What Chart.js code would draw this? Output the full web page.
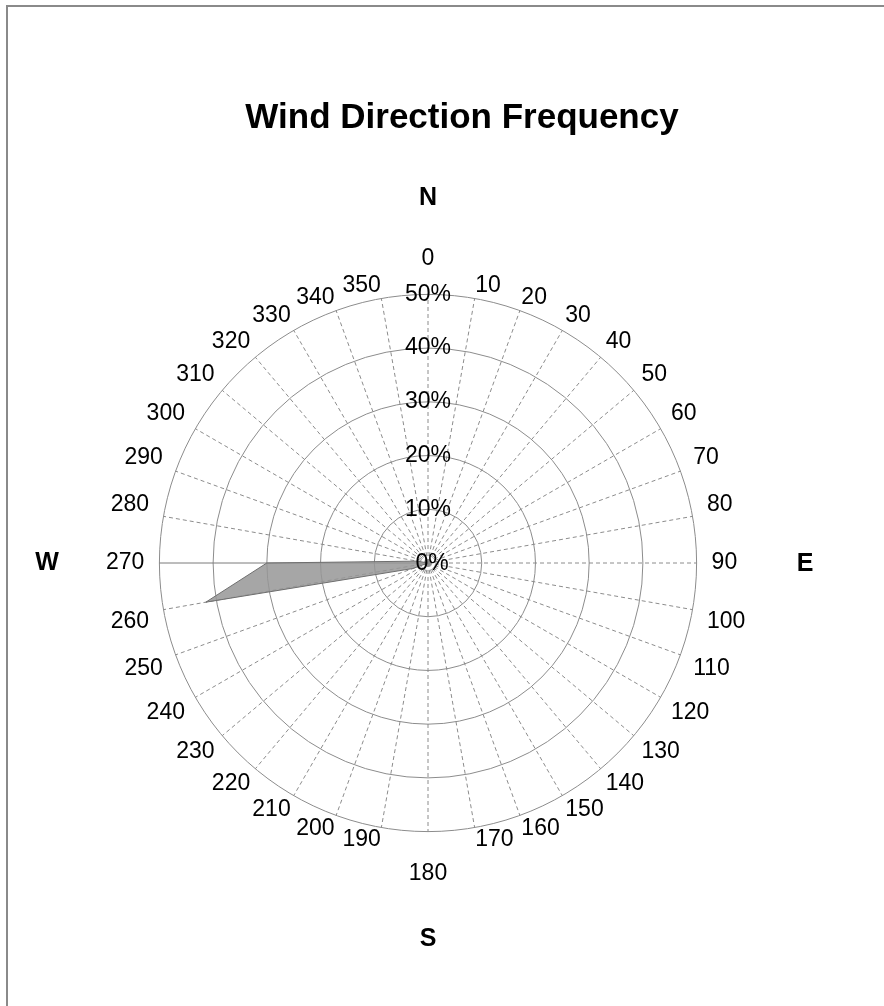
<!DOCTYPE html>
<html>
<head>
<meta charset="utf-8">
<script src="https://cdn.jsdelivr.net/npm/chart.js@4"></script>
<style>
  html, body { margin: 0; padding: 0; background: #fff; }
  #frame {
    position: absolute; left: 6px; top: 5px; width: 900px; height: 1020px;
    border-left: 2px solid #8a8a8a; border-top: 2px solid #8a8a8a;
  }
  #wrap { position: absolute; left: 0; top: 0; width: 884px; height: 1006px; }
</style>
</head>
<body>
<div id="frame"></div>
<div id="wrap"><canvas id="rose"></canvas></div>
<script>
// wind directions in degrees (category labels)
const directions = ['0', '10', '20', '30', '40', '50', '60', '70', '80', '90',
  '100', '110', '120', '130', '140', '150', '160', '170', '180',
  '190', '200', '210', '220', '230', '240', '250', '260', '270',
  '280', '290', '300', '310', '320', '330', '340', '350'];

// frequency (%) for each direction
const frequency = [0, 0, 0, 0, 0, 0, 0, 0, 0, 0,
  0, 0, 0, 0, 0, 0, 0, 0, 0,
  0, 0, 0, 0, 0, 0, 3, 42, 30,
  2, 0, 0, 0, 0, 0, 0, 0];

const compass = ['N', 'E', 'S', 'W'];
const chartTitle = 'Wind Direction Frequency';
const labelFont = 'Arial, "Liberation Sans", sans-serif';

// title, compass letters and the centre "0%" label
const decorPlugin = {
  id: 'decor',
  afterDraw(chart) {
    const r = chart.scales.r;
    const ctx = chart.ctx;
    ctx.save();
    ctx.fillStyle = '#000';
    ctx.textAlign = 'center';
    ctx.textBaseline = 'middle';
    ctx.font = 'bold 35px ' + labelFont;
    ctx.fillText(chartTitle, 462, 118);
    ctx.font = '23px ' + labelFont;
    ctx.fillText('0%', r.xCenter + 4, r.yCenter + 1);
    ctx.font = 'bold 25px ' + labelFont;
    ctx.fillText(compass[0], r.xCenter, r.yCenter - 365);
    ctx.fillText(compass[1], r.xCenter + 377, r.yCenter + 1);
    ctx.fillText(compass[2], r.xCenter, r.yCenter + 376);
    ctx.fillText(compass[3], r.xCenter - 381, r.yCenter);
    ctx.restore();
  }
};

// gap between circle and label: tight near the top, wider at the sides,
// 0 and 180 pushed clear of the axis. Chart.js adds 11.5px of its own.
const labelPadding = (c) => {
  if (c.index === 0) return 27 - 11.5;
  if (c.index === 18) return 33 - 11.5;
  const s = Math.sin(c.index * 10 * Math.PI / 180);
  return 3 + 12 * s * s - 11.5;
};

new Chart(document.getElementById('rose'), {
  type: 'radar',
  data: {
    labels: directions,
    datasets: [{
      label: 'Frequency',
      data: frequency,
      backgroundColor: 'rgba(150, 150, 150, 0.85)',
      borderColor: '#6e6e6e',
      borderWidth: 1,
      pointRadius: 0,
      fill: true
    }]
  },
  options: {
    responsive: true,
    maintainAspectRatio: false,
    animation: false,
    layout: { padding: { left: 61, right: 88, top: 247, bottom: 120 } },
    plugins: {
      legend: { display: false },
      tooltip: { enabled: false },
      title: { display: false }
    },
    scales: {
      r: {
        min: 0,
        max: 50,
        startAngle: 0,
        grid: {
          circular: true,
          color: '#8c8c8c',
          lineWidth: 1,
          borderDash: [4, 3]
        },
        angleLines: {
          color: (c) => c.index === 27 ? '#7a7a7a' : '#8c8c8c',
          lineWidth: 1,
          borderDash: (c) => c.index === 27 ? [] : [4, 3]
        },
        pointLabels: {
          color: '#000',
          padding: labelPadding,
          font: { family: labelFont, size: 23, lineHeight: 0.8 }
        },
        ticks: {
          stepSize: 10,
          color: '#000',
          z: 1,
          showLabelBackdrop: false,
          backdropPadding: 0,
          font: { family: labelFont, size: 23 },
          callback: (v) => v + '%'
        }
      }
    }
  },
  plugins: [decorPlugin]
});
</script>
</body>
</html>
